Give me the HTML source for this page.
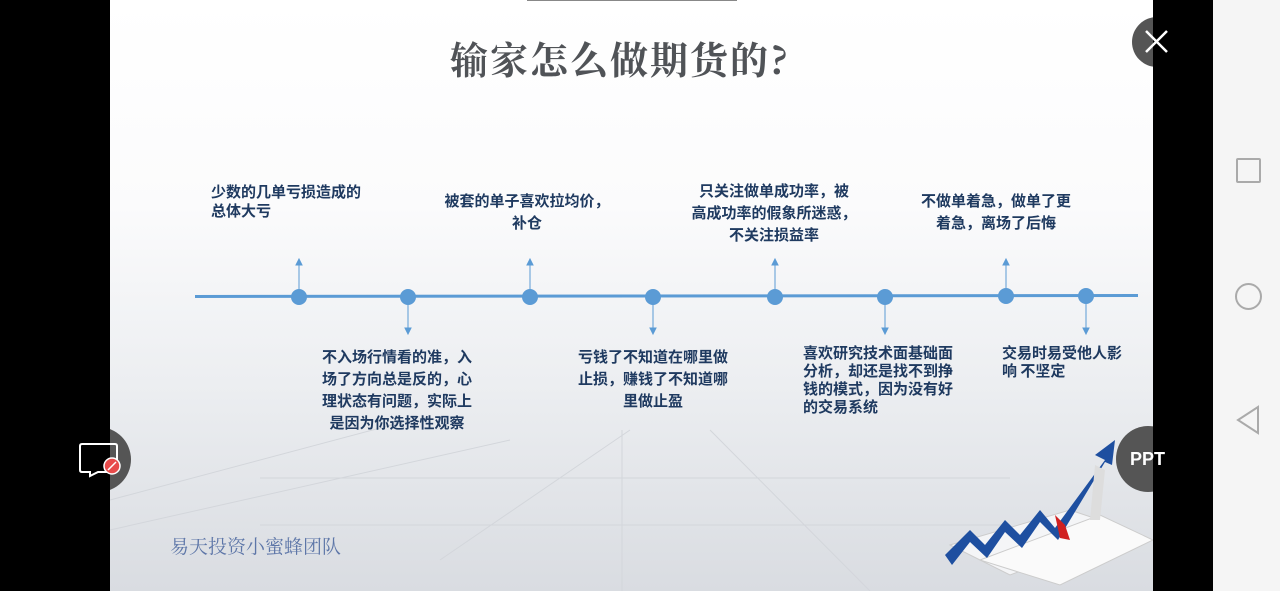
<!DOCTYPE html>
<html><head><meta charset="utf-8"><style>
body{margin:0;width:1280px;height:591px;background:#000;position:relative;overflow:hidden;font-family:"Liberation Sans","Noto Sans CJK SC",sans-serif}
.slide{position:absolute;left:110px;top:0;width:1043px;height:591px;background:linear-gradient(#fff 0%,#fbfbfc 35%,#eceef1 65%,#d9dce1 100%);overflow:hidden}
.t{position:absolute;color:#1f3a60;font-weight:bold;font-size:15px;line-height:22px;font-family:"Noto Sans CJK SC",sans-serif;white-space:nowrap}
.c{text-align:center}
.right{position:absolute;left:1213px;top:0;width:67px;height:591px;background:#f5f5f5}
</style></head><body>
<div class="slide">
<div style="position:absolute;left:417px;top:0;width:210px;height:1px;background:#888"></div>
<div style="position:absolute;left:340px;top:30px;font-family:'Noto Serif CJK SC',serif;font-weight:bold;font-size:38px;color:#505357;letter-spacing:2px;white-space:nowrap">输家怎么做期货的?</div>
<svg width="1043" height="591" style="position:absolute;left:0;top:0">
<g stroke="#d3d6db" stroke-width="1" fill="none">
<line x1="0" y1="500" x2="300" y2="420"/><line x1="0" y1="530" x2="400" y2="440"/><line x1="330" y1="560" x2="520" y2="430"/>
<line x1="512" y1="430" x2="512" y2="591"/><line x1="600" y1="430" x2="760" y2="591"/><line x1="150" y1="478" x2="900" y2="478"/><line x1="150" y1="525" x2="900" y2="525"/>
</g>
<line x1="85" y1="296.5" x2="1028" y2="295.5" stroke="#5b9bd5" stroke-width="3"/>
<g fill="#5b9bd5" stroke="#5b9bd5" stroke-width="1">
<g transform="translate(189,0)"><circle cx="0" cy="297" r="7.5"/><line x1="0" y1="290" x2="0" y2="264"/><path d="M-3 265 L0 259 L3 265Z"/></g>
<g transform="translate(298,0)"><circle cx="0" cy="297" r="7.5"/><line x1="0" y1="304" x2="0" y2="329"/><path d="M-3 328 L0 334 L3 328Z"/></g>
<g transform="translate(420,0)"><circle cx="0" cy="297" r="7.5"/><line x1="0" y1="290" x2="0" y2="264"/><path d="M-3 265 L0 259 L3 265Z"/></g>
<g transform="translate(543,0)"><circle cx="0" cy="297" r="7.5"/><line x1="0" y1="304" x2="0" y2="329"/><path d="M-3 328 L0 334 L3 328Z"/></g>
<g transform="translate(665,0)"><circle cx="0" cy="297" r="7.5"/><line x1="0" y1="290" x2="0" y2="264"/><path d="M-3 265 L0 259 L3 265Z"/></g>
<g transform="translate(775,0)"><circle cx="0" cy="297" r="7.5"/><line x1="0" y1="304" x2="0" y2="329"/><path d="M-3 328 L0 334 L3 328Z"/></g>
<g transform="translate(896,0)"><circle cx="0" cy="296" r="7.5"/><line x1="0" y1="290" x2="0" y2="264"/><path d="M-3 265 L0 259 L3 265Z"/></g>
<g transform="translate(976,0)"><circle cx="0" cy="296" r="7.5"/><line x1="0" y1="304" x2="0" y2="329"/><path d="M-3 328 L0 334 L3 328Z"/></g>
</g>
<g>
<path d="M840 545 L960 510 L1020 530 L900 575Z" fill="#f4f5f7" stroke="#ccc"/>
<path d="M870 560 L990 515 L1043 540 L950 585Z" fill="#fafafa" stroke="#ccc"/>
<path d="M835 555 L860 530 L875 545 L895 520 L910 535 L930 510 L945 528 L995 460 L985 455 L1005 440 L1002 465 L995 462 L948 540 L930 522 L912 548 L895 532 L877 558 L860 542 L842 565Z" fill="#1e4fa0"/>
<path d="M945 515 L955 525 L960 540 L950 538Z" fill="#d02020"/>
<path d="M985 465 L995 470 L990 520 L980 520Z" fill="#ddd"/>
</g>
</svg>
<div class="t" style="left:101px;top:182px;line-height:19px">少数的几单亏损造成的<br>总体大亏</div>
<div class="t c" style="left:187px;top:346px;width:200px">不入场行情看的准，入<br>场了方向总是反的，心<br>理状态有问题，实际上<br>是因为你选择性观察</div>
<div class="t c" style="left:317px;top:190px;width:200px">被套的单子喜欢拉均价，<br>补仓</div>
<div class="t c" style="left:443px;top:346px;width:200px">亏钱了不知道在哪里做<br>止损，赚钱了不知道哪<br>里做止盈</div>
<div class="t c" style="left:564px;top:180px;width:200px">只关注做单成功率，被<br>高成功率的假象所迷惑，<br>不关注损益率</div>
<div class="t" style="left:693px;top:344px;line-height:18px">喜欢研究技术面基础面<br>分析，却还是找不到挣<br>钱的模式，因为没有好<br>的交易系统</div>
<div class="t c" style="left:786px;top:190px;width:200px">不做单着急，做单了更<br>着急，离场了后悔</div>
<div class="t" style="left:892px;top:344px;line-height:18px">交易时易受他人影<br>响 不坚定</div>
<div style="position:absolute;left:60px;top:532px;font-family:'Noto Serif CJK SC',serif;font-size:19px;color:#5d76a8">易天投资小蜜蜂团队</div>
</div>
<div class="right">
<div style="position:absolute;left:23px;top:158px;width:21px;height:21px;border:2px solid #aaa;border-radius:2px"></div>
<div style="position:absolute;left:22px;top:283px;width:23px;height:23px;border:2px solid #aaa;border-radius:50%"></div>
<svg style="position:absolute;left:22px;top:405px" width="26" height="30"><path d="M23 2 L3 15 L23 28Z" fill="none" stroke="#aaa" stroke-width="2"/></svg>
</div>
<div style="position:absolute;left:1132px;top:17px;width:50px;height:50px;border-radius:50%;background:#555"></div>
<div style="position:absolute;left:1153px;top:0;width:60px;height:591px;background:#000"></div>
<svg style="position:absolute;left:1132px;top:17px" width="50" height="50"><path d="M14 14 L35 35 M35 14 L14 35" stroke="#fff" stroke-width="2.5"/></svg>
<div style="position:absolute;left:1116px;top:426px;width:64px;height:66px;border-radius:50%;background:#555;clip-path:inset(0 27px 0 0)"></div>
<div style="position:absolute;left:1130px;top:449px;color:#fff;font-weight:bold;font-size:18px">PPT</div>
<div style="position:absolute;left:66px;top:427px;width:65px;height:65px;border-radius:50%;background:#555;clip-path:inset(0 0 0 44px)"></div>
<svg style="position:absolute;left:78px;top:442px" width="46" height="36"><path d="M4 2 H37 Q39 2 39 4 V28 Q39 30 37 30 H20 L12 34 L12 30 H4 Q2 30 2 28 V4 Q2 2 4 2Z" fill="none" stroke="#fff" stroke-width="2"/><circle cx="34" cy="24" r="8" fill="#e84b4b" stroke="#fff" stroke-width="1.5"/><line x1="30" y1="28" x2="38" y2="20" stroke="#fff" stroke-width="1.5"/></svg>
</body></html>
